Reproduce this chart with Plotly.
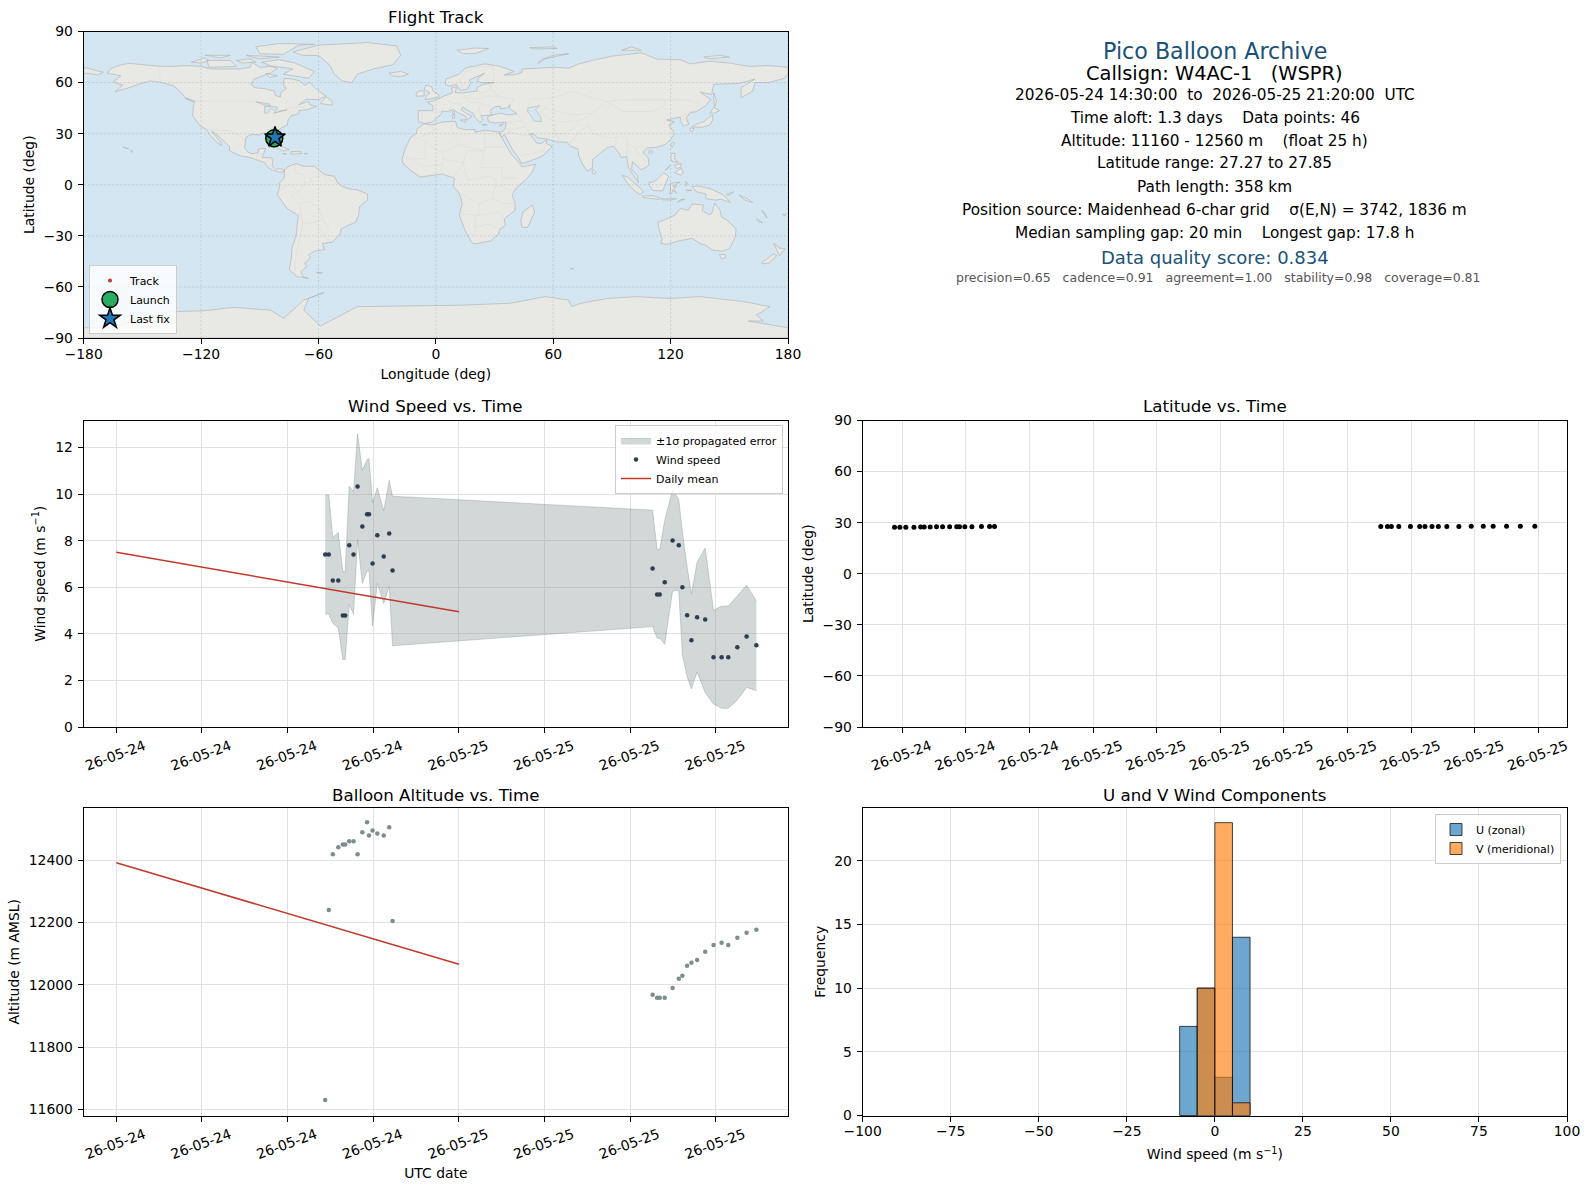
import plotly.graph_objects as go

W, H = 1589, 1189
FONT = "DejaVu Sans"

# ---------- flight data ----------
TIME_A = ["14:38","14:53","15:10","15:33","15:52","16:02","16:19","16:37","16:54","17:14","17:34","17:42","17:57","18:17","18:44","19:07","19:21"]
TIME_B = ["13:34","13:53","14:04","14:25","14:58","15:24","15:39","15:59","16:17","16:41","17:15","17:50","18:24","18:52","19:30","20:09","20:50"]
times = ["2026-05-24 " + t for t in TIME_A] + ["2026-05-25 " + t for t in TIME_B]

wind = [7.41,7.41,6.29,6.29,4.79,4.79,7.80,7.41,10.33,8.61,9.13,9.13,7.02,8.23,7.32,8.31,6.72,
        6.81,5.69,5.69,6.21,8.01,7.80,6.00,4.80,3.72,4.71,4.62,2.99,3.00,3.00,3.42,3.89,3.51]
wind_hi = [9.96,9.96,8.14,8.36,6.68,6.68,10.34,10.10,12.60,11.02,11.49,11.52,9.63,10.27,9.28,10.59,9.91,
           9.31,7.63,7.63,8.88,10.17,9.77,8.37,6.88,5.71,7.07,7.68,5.01,5.19,5.19,5.65,6.09,5.42]
wind_lo = [4.85,4.85,4.45,4.25,2.90,2.90,5.26,4.85,8.05,6.17,6.70,6.72,4.33,6.17,5.31,6.05,3.49,
           4.31,3.81,3.81,3.55,5.85,5.85,3.09,2.16,1.64,2.36,1.47,0.99,0.80,0.80,1.16,1.70,1.56]
mean_days = ["2026-05-24 00:00", "2026-05-25 00:00"]
wind_mean = [7.50, 4.95]
alt_mean = [12392, 12066]

altitude = [11630,12240,12419,12442,12451,12451,12461,12461,12419,12490,12522,12480,12496,12486,12480,12506,12205,
            11968,11958,11958,11958,11990,12019,12029,12061,12071,12080,12106,12128,12135,12128,12151,12167,12177]
latitude = [27.27,27.27,27.28,27.30,27.45,27.45,27.50,27.55,27.55,27.60,27.60,27.60,27.60,27.65,27.70,27.70,27.70,
            27.75,27.76,27.77,27.78,27.78,27.79,27.80,27.80,27.81,27.82,27.82,27.83,27.83,27.84,27.84,27.85,27.85]
longitude = [-82.6,-82.6,-82.6,-82.6,-82.6,-82.5,-82.5,-82.5,-82.5,-82.5,-82.5,-82.5,-82.5,-82.5,-82.4,-82.4,-82.4,
             -82.4,-82.4,-82.4,-82.4,-82.3,-82.3,-82.3,-82.3,-82.3,-82.3,-82.3,-82.3,-82.2,-82.2,-82.2,-82.2,-82.2]

hist_centers = [-7.5, -2.5, 2.5, 7.5]
hist_u = [7, 10, 3, 14]
hist_v = [0, 10, 23, 1]

# ---------- base map (lon, lat) ----------
NORTH_AMERICA = [(-168,65.5),(-166,68.3),(-162,70.2),(-156.5,71.3),(-150,70.5),(-141,69.6),(-135,69.5),(-128,70),(-120,69.5),(-115,68),(-108,68),(-100,68),(-95,69),(-94,72),(-90,69),(-85,69.5),(-81,68.5),(-84,66),(-87,64.5),(-93,62),(-94.5,59),(-92.5,57),(-88,56.5),(-82.5,55),(-82,52.5),(-79.5,51.5),(-79,54.5),(-76.5,56.5),(-78,59),(-77.5,62.5),(-73,62),(-69.5,61),(-67,58.5),(-64.5,60.3),(-61.5,56.5),(-57,53),(-56,52),(-60,50),(-66.5,50.2),(-70,47),(-65,49),(-64.5,47),(-61,46),(-66,44),(-70,43.5),(-70,41.7),(-74,40.5),(-75.5,38),(-76,35),(-78,34),(-81,32),(-81.3,30),(-80,26.8),(-80.5,25.2),(-81.8,26),(-82.8,28),(-84,30),(-86,30.4),(-89,30.2),(-90,29.2),(-94,29.6),(-97,28),(-97.5,25),(-97.8,22),(-96,19),(-94,18.2),(-91,18.7),(-90.5,21),(-87,21.5),(-88,18),(-88.7,16),(-84,15.8),(-83.3,14.9),(-83.7,11),(-82,9),(-79.5,9.5),(-77.4,8.7),(-78,7.5),(-80.3,7.5),(-83,8.3),(-85.7,10),(-87.5,13),(-92,14.6),(-95,16),(-100,17),(-105.5,20),(-105.5,22.5),(-109,26),(-112.5,30),(-114.7,31.5),(-113,29),(-110,25),(-109.5,23),(-112,25),(-115,28.5),(-117.2,32.5),(-120.5,34.5),(-122.5,37.5),(-124.3,40.5),(-124,46),(-123,49),(-128,51),(-130.5,54.5),(-134,58),(-140,60),(-146,61),(-152,59),(-158,56.5),(-164,54.7),(-160,58.5),(-165,60.5),(-161,64),(-168,65.5)]
GREENLAND = [(-73,78),(-60,82),(-35,83.5),(-20,81.5),(-18,76),(-22,70.5),(-32,68),(-40,65),(-43,60),(-48,61),(-52,65),(-54,70),(-60,76),(-68,76),(-73,78)]
BAFFIN = [(-80,73.5),(-72,71.5),(-67,69),(-62,66.5),(-65,62.5),(-72,64),(-78,65),(-73,68),(-85,70),(-89,72),(-80,73.5)]
VICTORIA = [(-117,73),(-105,73),(-102,69.5),(-116,69),(-117,73)]
ELLESMERE = [(-90,77),(-78,76.5),(-70,82),(-62,82.5),(-80,83),(-92,81),(-90,77)]
BANKS = [(-125,72),(-118,74.5),(-116,73),(-120,71.5),(-125,72)]
DEVON = [(-97,76),(-80,75),(-90,74),(-97,76)]
MELVILLE = [(-118,76),(-105,76),(-110,74.5),(-118,76)]
SOMERSET = [(-102,73),(-95,74),(-92,72),(-99,71.5),(-102,73)]
SOUTHAMPTON = [(-87,65.5),(-81,64),(-85,63),(-87,65.5)]
NEWFOUNDLAND = [(-59,47.7),(-53,46.7),(-53,49),(-56,51.5),(-59,47.7)]
VANCOUVER = [(-128,50.7),(-124,48.5),(-125,50),(-128,50.7)]
CUBA = [(-85,22),(-80,23),(-75,20.7),(-78,19.8),(-82,22),(-85,22)]
HISPANIOLA = [(-74,19.5),(-69,19.5),(-68.5,18.3),(-74,18),(-74,19.5)]
JAMAICA = [(-78.3,18.4),(-76.3,18.1),(-77.5,17.8),(-78.3,18.4)]
PUERTO_RICO = [(-67.2,18.5),(-65.6,18.3),(-67,17.9),(-67.2,18.5)]
HAWAII = [(-156,20.2),(-155,19.7),(-155.7,19),(-156,20.2)]
HAWAII_W = [(-160,22.2),(-158,21.6),(-157,21),(-158,21.3),(-160,22.2)]
SOUTH_AMERICA = [(-77.4,8.7),(-75,11),(-71.5,12.4),(-68,11),(-62,10.7),(-57,6),(-52,5),(-50,1),(-48,-1),(-44,-2.5),(-40,-3),(-35,-5.5),(-35,-9),(-39,-13),(-39.5,-18),(-41,-22),(-45,-24),(-48.5,-26),(-49,-29),(-53,-33.8),(-58,-34.5),(-57,-38),(-62,-39),(-65,-41),(-64,-43),(-67,-46),(-66,-48),(-69,-51),(-68,-54),(-65,-55),(-71,-54),(-75,-50),(-74,-44),(-73.5,-37),(-71.5,-30),(-70.3,-18),(-76,-14),(-81,-6),(-80,-2),(-80,1),(-77.5,4),(-77.5,7),(-77.4,8.7)]
FALKLANDS = [(-61,-51.5),(-58,-51.5),(-59,-52.3),(-61,-51.5)]
AFRICA = [(-6,35.8),(-2,35),(3,36.8),(10,37.3),(11,33.5),(15,32.3),(20,32.5),(20,30.8),(25,32),(32,31),(32.5,30),(33.5,28),(35.5,24),(37,21),(38.5,18),(41,15),(43.3,12),(44,10.5),(51,12),(49,7),(46,3),(41,-2),(39,-6),(40.5,-11),(40.5,-15),(35,-20),(35.5,-24),(32.7,-26),(32,-29),(28,-33),(20,-34.8),(18.3,-34),(15,-27),(12,-18),(13.5,-11),(12,-5),(9,-1),(9.5,4),(5,5.5),(4,6.3),(-4,5.2),(-8,4.5),(-13,8.5),(-16.7,12.5),(-17.3,14.7),(-16,20),(-13,27.7),(-10,30),(-9.5,33),(-6,35.8)]
MADAGASCAR = [(49.3,-12),(50.5,-16),(47,-25),(44,-25),(43.5,-21),(44.5,-16),(49.3,-12)]
EURASIA = [(-9,37),(-5.5,36),(-2,36.8),(0,39),(3,41.8),(3,43.2),(6,43),(9,44.3),(11,42.5),(15.5,40),(16,38),(17,39),(18.5,40),(16,41.5),(13,44),(13.7,45.7),(15,44.5),(19,42),(20,39.5),(22.5,36.5),(24,38),(23,40.5),(26,40.8),(29,41.1),(28,42),(28,44),(30.5,46),(33,46),(33,44.5),(35,45),(36.5,45.2),(38,47),(37.5,45),(39,43.7),(41.5,41.7),(37,41),(33,42),(29.2,41),(26.5,40),(26.5,39),(27,37),(30.5,36.3),(36,36.7),(35.5,33.5),(34.3,31.2),(32.5,31),(32.5,30),(34,28),(35,29.5),(37,25.5),(39,21),(42.7,15),(43.5,12.7),(45,12.8),(52,15.6),(55,17.3),(59.5,22.5),(56.5,24.3),(56.5,26.3),(54,24.2),(51.5,24.5),(50.5,26),(48,29.8),(50,30),(52,27.5),(57,26.8),(61.5,25.2),(67,25),(69,22.5),(72.7,21),(73,17),(75,12),(77.5,8),(80,10),(80.3,15),(85,19.5),(88,22),(91,22.5),(94,18),(94.5,16),(97.5,16.5),(98.5,10),(100.5,6.5),(103.5,1.3),(103,5.5),(100,9),(100.5,13.5),(103,11),(105,8.7),(109,11.5),(108.5,16),(105.8,19),(108,21.5),(113,22),(117,23.5),(120,26.5),(122,30),(121,32),(119,35),(122,37),(118,38),(121.5,39),(125,39.7),(125,37.5),(126.5,34.5),(129.3,35.5),(128,39),(130,42.5),(133,42.8),(138,46.5),(140.5,50),(135,54.5),(141,53),(142,59),(150,59.5),(155,59.5),(163,62),(156,57),(156,51),(162,55),(163,60),(170,60),(178,62.5),(180,65),(180,69),(170,70),(160,69.5),(150,71.5),(140,72.5),(130,71),(125,73.5),(113,73.8),(105,77.5),(90,75.5),(80,73),(73,71),(68,68.5),(60,69),(53,68.5),(44,68),(44,66),(40,64.5),(35,64.5),(40,66.5),(33,69.5),(25,71),(15,68.5),(12,65),(5,62),(5,58.8),(7,58),(10.5,59),(12,56),(13,55.5),(16,56),(18,60),(17,61.5),(21.5,64),(25,65.5),(22,63),(21,61),(23,60),(30,60),(24,59),(21,57),(21,55),(14,54),(10,54),(10.5,57.5),(8,57),(8.5,54),(4,52),(1.5,50.5),(-2,49),(-4.5,48.5),(-1.5,46.5),(-1.5,43.5),(-9,43.5),(-9,37)]
CHUKOTKA_W = [(-180,69),(-175,67.5),(-170,66),(-173,64.5),(-178,65.5),(-180,65),(-180,69)]
BRITAIN = [(-5.5,50),(1.5,51.2),(1.5,52.8),(-1.5,55),(-2,57.5),(-5,58.6),(-6,56),(-3,54),(-5,52),(-5.5,50)]
IRELAND = [(-10,52),(-6,52.2),(-6,55),(-8,55.3),(-10,54),(-10,52)]
ICELAND = [(-24,65.5),(-18,66.5),(-14,65),(-18,63.5),(-22.5,64),(-24,65.5)]
SVALBARD = [(11,79),(20,80.3),(27,80),(20,77),(14,77),(11,79)]
NOVAYA = [(52,71),(56,74),(68,77),(60,76),(54,73.5),(52,71)]
SEVERNAYA = [(95,79),(105,79),(100,81),(95,79)]
NEW_SIBERIAN = [(137,75),(145,76),(150,75),(140,74),(137,75)]
FRANZ_JOSEF = [(48,80.5),(60,81),(62,80),(50,79.8),(48,80.5)]
SAKHALIN = [(142,54),(143.5,49),(142.5,46),(142,50),(142,54)]
HONSHU = [(131,34),(136,33.7),(140,35),(141.5,38),(141.5,41),(140,40),(137,37),(133,35.5),(131,34)]
HOKKAIDO = [(140,42),(142,45.5),(145,43.5),(142,42),(140,42)]
KYUSHU = [(130,33.5),(132,33),(131,31),(130,31.5),(130,33.5)]
TAIWAN = [(121,25),(122,24.5),(120.8,22),(120,23.5),(121,25)]
HAINAN = [(109,20),(111,19.7),(110,18.2),(108.7,19),(109,20)]
SRI_LANKA = [(80,9.5),(82,7),(80.5,6),(79.8,8),(80,9.5)]
CYPRUS = [(32.3,35),(34.5,35.6),(33,34.6),(32.3,35)]
SICILY = [(12.5,38),(15.5,38.2),(15,36.7),(12.5,38)]
SARDINIA = [(8.3,41),(9.7,41),(9.5,39),(8.5,39),(8.3,41)]
CORSICA = [(8.7,43),(9.5,43),(9.3,41.4),(8.7,42),(8.7,43)]
CRETE = [(23.5,35.5),(26.3,35.2),(24,34.9),(23.5,35.5)]
SUMATRA = [(95.3,5.6),(98,4.5),(104,-1.5),(106,-4),(104.5,-5.8),(102,-4),(98.5,0),(95.3,5.6)]
JAVA = [(105.5,-6.5),(111,-6.5),(114.5,-7.7),(114,-8.7),(106,-7.5),(105.5,-6.5)]
BORNEO = [(109,1.5),(111,1.5),(113,3),(116.5,7),(119,5),(117.5,1),(116,-3.7),(111,-3.3),(109.2,-0.5),(109,1.5)]
SULAWESI = [(119.5,-5.5),(120,-2.5),(119.8,0.8),(124.8,1.5),(121,-0.8),(123,-1),(121.5,-2),(123,-5),(121,-3),(120.5,-5.5),(119.5,-5.5)]
LUZON = [(120.5,18.5),(122.3,18.3),(122,15),(124,13),(120.7,13.8),(120,16),(120.5,18.5)]
MINDANAO = [(122,7),(125.5,9.8),(126.5,7),(125,5.7),(122,7)]
VISAYAS = [(122,11.5),(125.5,12.5),(125,10.2),(123,9.5),(122,11.5)]
PALAWAN = [(117.2,8.4),(119.5,11.3),(119,10),(117.2,8.4)]
NEW_GUINEA = [(131,-1),(134,-0.8),(138,-1.7),(141,-2.6),(147,-6),(150.8,-10.5),(146,-8.5),(143,-9),(138,-8.2),(138,-5.5),(133,-4),(131,-1)]
HALMAHERA = [(127.5,2),(128.7,1),(128,-0.8),(127.5,2)]
SERAM = [(127.8,-3),(130.8,-3.3),(128,-3.6),(127.8,-3)]
TIMOR = [(123.5,-10.3),(127.2,-8.4),(125,-8.8),(123.5,-10.3)]
FLORES = [(115,-8.2),(119,-8.4),(123,-8.2),(120,-8.9),(116,-8.9),(115,-8.2)]
NEW_BRITAIN = [(148.3,-5.6),(152.2,-4.2),(151,-5.5),(149,-6.3),(148.3,-5.6)]
SOLOMON = [(155,-6),(159,-8),(162,-10.5),(158,-9),(155,-6)]
VANUATU = [(166.5,-15),(168,-16.5),(169.3,-19.5),(167.5,-16.5),(166.5,-15)]
NEW_CALEDONIA = [(164,-20),(167,-22.3),(165,-21.8),(164,-20)]
FIJI = [(177.3,-17.5),(179,-17),(178.5,-18.3),(177.3,-17.5)]
AUSTRALIA = [(113.5,-22),(114,-26),(115.7,-32),(115,-34.4),(118,-35),(124,-33),(131,-31.5),(135.5,-34.8),(138,-35.5),(141,-38.3),(146.5,-39),(150,-37.5),(153,-31),(153.5,-26),(149,-21),(146,-19),(145.3,-15),(142.5,-10.8),(141,-17),(139.5,-17.5),(136,-15),(137,-12),(131,-11.3),(129,-15),(125,-14),(122,-18),(117,-20.5),(113.5,-22)]
TASMANIA = [(145,-41),(148,-41),(148,-43),(146,-43.5),(145,-41)]
NZ_NORTH = [(172.7,-34.5),(175.5,-37),(178.5,-37.7),(175.5,-41.6),(174.5,-39),(172.7,-34.5)]
NZ_SOUTH = [(172.7,-40.5),(174.3,-41.7),(170.5,-45.9),(167,-46.5),(166.5,-45.8),(172.7,-40.5)]
KERGUELEN = [(68.8,-49),(70.5,-49.2),(69.5,-49.7),(68.8,-49)]
ANTARCTICA = [(-180,-90),(-180,-84),(-165,-84),(-150,-78),(-135.6,-74.6),(-118.6,-74),(-103.3,-72),(-84.6,-73.6),(-77.7,-78.4),(-67.5,-67.7),(-57.3,-63.4),(-65,-66.7),(-67.5,-73.6),(-59,-83),(-40.2,-71.6),(-2.8,-71),(14.2,-70.7),(38,-69.6),(55.9,-65.7),(67.8,-67.7),(69.5,-71.6),(73.7,-69.7),(87.4,-66.8),(102.7,-65.7),(119.7,-66.8),(135,-65.7),(157.1,-68.6),(170.7,-71.6),(163.9,-76.5),(167.3,-80),(159.7,-80),(180,-84),(180,-90),(-180,-90)]
CASPIAN = [(47,45),(53,46.5),(51,44),(53.5,40),(54,37),(50,37.5),(49,40),(47,43),(47,45)]
HUDSON_LAKES = [(-92,48.7),(-85,47.5),(-84.5,46.5),(-88,47),(-92,48.7)]
MICHIGAN_HURON = [(-87.5,46),(-84,46),(-81,45.5),(-82,43),(-84,45),(-86,42),(-87.5,42),(-87.5,46)]
ERIE_ONTARIO = [(-83,42),(-79,43),(-76,44),(-79,43.5),(-83,42)]

LAND = [NORTH_AMERICA,GREENLAND,BAFFIN,VICTORIA,ELLESMERE,BANKS,DEVON,MELVILLE,SOMERSET,SOUTHAMPTON,NEWFOUNDLAND,VANCOUVER,CUBA,HISPANIOLA,JAMAICA,PUERTO_RICO,HAWAII,HAWAII_W,SOUTH_AMERICA,FALKLANDS,AFRICA,MADAGASCAR,EURASIA,CHUKOTKA_W,BRITAIN,IRELAND,ICELAND,SVALBARD,NOVAYA,SEVERNAYA,NEW_SIBERIAN,FRANZ_JOSEF,SAKHALIN,HONSHU,HOKKAIDO,KYUSHU,TAIWAN,HAINAN,SRI_LANKA,CYPRUS,SICILY,SARDINIA,CORSICA,CRETE,SUMATRA,JAVA,BORNEO,SULAWESI,LUZON,MINDANAO,VISAYAS,PALAWAN,NEW_GUINEA,HALMAHERA,SERAM,TIMOR,FLORES,NEW_BRITAIN,SOLOMON,VANUATU,NEW_CALEDONIA,FIJI,AUSTRALIA,TASMANIA,NZ_NORTH,NZ_SOUTH,KERGUELEN,ANTARCTICA]
WATER = [CASPIAN, HUDSON_LAKES, MICHIGAN_HURON, ERIE_ONTARIO]

BORDERS = [
 [(-141,69.6),(-141,60)],[(-123,49),(-95,49),(-89,48),(-82.5,45),(-79,43),(-75,45),(-70,46),(-67,45)],
 [(-117,32.5),(-108,31.5),(-106,31.7),(-101,29.5),(-97.5,26)],[(-92,14.6),(-91,17.5),(-89,18)],[(-89,18),(-89,15.8)],[(-87.5,13),(-84,15)],[(-83.7,11),(-85.7,11)],[(-83,8.3),(-82.5,9.5)],
 [(-72,12),(-72,7),(-67.5,6),(-67,1),(-70,-4)],[(-60,8.5),(-60,5),(-64,4),(-64,1.5),(-67,1)],[(-57,6),(-56,2),(-52,2.5)],[(-70,-4),(-74,-7),(-70,-11),(-69,-16),(-70.3,-18)],[(-69,-11),(-65,-10),(-60,-13.5),(-58,-20),(-54.5,-26),(-57.5,-30),(-53,-33.8)],[(-80,-3.5),(-75,0),(-70,-4)],[(-69,-16),(-68,-23),(-70,-33),(-72,-45),(-72,-52)],[(-68,-23),(-62,-22),(-58,-20)],[(-62,-22),(-58,-27),(-57.5,-30)],
 [(-2,35),(-1,32),(-8.5,27.5),(-13,27.7)],[(-8.5,27.5),(-5,25),(3,19),(12,23.5),(9.5,30),(8,33),(8.5,36.9)],[(12,23.5),(25,20),(25,32)],[(25,22),(37,22)],[(24,20),(24,15.5),(23,10),(34,10),(34,4),(41,4)],[(3,19),(4,15),(14,13),(16,20),(24,20)],[(-16.5,16),(-12,15),(-5.5,15.5),(-5.5,25)],[(-12,15),(-8,11),(-3,11),(3,12),(4,15)],[(3,12),(2.7,6.3)],[(14,13),(9,4)],[(14,13),(15,8),(16,3),(18,3),(27,5),(31,3),(30,-1),(29,-8),(22,-11),(12,-5)],[(34,4),(34,-1),(40,-4.5)],[(30,-1),(34,-1)],[(29,-8),(34,-11),(40.5,-11)],[(22,-11),(22,-18),(12,-17)],[(22,-18),(33,-16),(35,-20)],[(20,-18),(20,-29),(17,-29)],[(20,-25),(27,-23),(32,-25.5)],
 [(-1.5,43.5),(3,42.5)],[(-9,42),(-7,42),(-7,37)],[(2,51),(6,49.5),(8,47.7),(7,44)],[(8,47.7),(13,47.5),(13.7,45.7)],[(6,51.5),(7,54)],[(14,54),(15,51),(24,50.5),(23.5,54),(21,55)],[(15,51),(17,48.5),(23,48),(29,45.5)],[(23,48),(22,44),(23,41)],[(19,42),(22,44)],[(12,56),(14,59),(12,61),(15,66),(20,69)],[(20,69),(29,69.5),(30,62),(28,60)],
 [(28,60),(28,56),(32,52),(40,50),(38,47)],[(24,52),(32,52)],[(23.5,54),(28,56)],[(47,45),(48,50),(60,51),(70,55),(80,51),(87,49),(98,50),(107,50),(117,50),(127,50),(135,48),(131,43)],[(87,49),(96,43),(111,43),(117,47),(117,50)],[(80,42),(87,49)],[(53,42),(62,37),(67,37),(74,38),(80,42),(70,41),(56,45),(53,42)],[(60,51),(53,42)],[(61,36),(61,30),(63,27),(61.5,25.2)],[(61,30),(66,30),(71,34),(74,38)],[(48,30),(46,34),(44,37.5),(36,36.7)],[(44,37.5),(41.5,41.7)],[(46,34),(39,32.5),(35.5,33)],[(39,32.5),(37,30),(35,29.5)],[(48,29),(44,29),(37,31)],[(52,19),(55,20),(56,24.3)],[(52,19),(45,17.5),(43,16.5)],[(68,24),(71,28),(74,32),(78,35),(80,30),(88,27.5),(92,28),(97,28),(98,24),(102,21.5),(106,22.5),(108,21.5)],[(92,28),(92,22.5)],[(98,24),(97.5,16.5)],[(102,21.5),(104,18),(107,14),(106,11),(103,11)],[(100,20),(98,16)],[(124.5,40),(130,42.5)],[(125,38),(128.5,38.5)],
]

LON_TICKS = [-180,-120,-60,0,60,120,180]
LAT_TICKS = [-90,-60,-30,0,30,60,90]
WIND_TICKS = [0,2,4,6,8,10,12]
ALT_TICKS = [11600,11800,12000,12200,12400]
FREQ_TICKS = [0,5,10,15,20]
SPEED_TICKS = [-100,-75,-50,-25,0,25,50,75,100]

def flat(rings):
    xs, ys = [], []
    for ring in rings:
        xs += [p[0] for p in ring] + [None]
        ys += [p[1] for p in ring] + [None]
    return xs, ys

fig = go.Figure()

# ---------- map ----------
fig.add_trace(go.Scatter(x=[-180,180,180,-180,-180], y=[-90,-90,90,90,-90], mode="lines", fill="toself",
                         fillcolor="#d4e6f1", line=dict(width=0), showlegend=False, hoverinfo="skip", xaxis="x", yaxis="y"))
lx, ly = flat(LAND)
fig.add_trace(go.Scatter(x=lx, y=ly, mode="lines", fill="toself", fillcolor="#e8e8e4",
                         line=dict(color="#b4b6b6", width=0.7), showlegend=False, hoverinfo="skip", xaxis="x", yaxis="y"))
bx, by = flat(BORDERS)
fig.add_trace(go.Scatter(x=bx, y=by, mode="lines", line=dict(color="#dcdcd8", width=0.6), showlegend=False,
                         hoverinfo="skip", connectgaps=False, xaxis="x", yaxis="y"))
wx, wy = flat(WATER)
fig.add_trace(go.Scatter(x=wx, y=wy, mode="lines", fill="toself", fillcolor="#d4e6f1",
                         line=dict(color="#b4b6b6", width=0.6), showlegend=False, hoverinfo="skip", xaxis="x", yaxis="y"))
gx, gy = flat([[(v,-90),(v,90)] for v in LON_TICKS] + [[(-180,v),(180,v)] for v in LAT_TICKS])
fig.add_trace(go.Scatter(x=gx, y=gy, mode="lines", line=dict(color="rgba(128,128,128,0.3)", width=0.8, dash="2px,2px"),
                         showlegend=False, hoverinfo="skip", xaxis="x", yaxis="y"))
fig.add_trace(go.Scatter(x=longitude, y=latitude, mode="markers", name="Track", marker=dict(color="#c0392b", size=4),
                         xaxis="x", yaxis="y", legend="legend"))
fig.add_trace(go.Scatter(x=longitude[:1], y=latitude[:1], mode="markers", name="Launch",
                         marker=dict(color="#27ae60", size=17, line=dict(color="black", width=1.5)), xaxis="x", yaxis="y", legend="legend"))
fig.add_trace(go.Scatter(x=longitude[-1:], y=latitude[-1:], mode="markers", name="Last fix",
                         marker=dict(color="#1f77b4", size=15.5, symbol="star", line=dict(color="black", width=1.5)), xaxis="x", yaxis="y", legend="legend"))

# ---------- wind ----------
BAND = "rgba(127,140,141,0.35)"
fig.add_trace(go.Scatter(x=times, y=wind_lo, mode="lines", line=dict(color=BAND, width=1), showlegend=False,
                         hoverinfo="skip", xaxis="x2", yaxis="y2"))
fig.add_trace(go.Scatter(x=times, y=wind_hi, mode="lines", fill="tonexty", fillcolor=BAND, name="±1σ propagated error",
                         line=dict(color=BAND, width=1), xaxis="x2", yaxis="y2", legend="legend2"))
fig.add_trace(go.Scatter(x=times, y=wind, mode="markers", name="Wind speed", marker=dict(color="#2c3e50", size=4.5),
                         xaxis="x2", yaxis="y2", legend="legend2"))
fig.add_trace(go.Scatter(x=mean_days, y=wind_mean, mode="lines", name="Daily mean", line=dict(color="#c0392b", width=1.5),
                         xaxis="x2", yaxis="y2", legend="legend2"))

# ---------- latitude ----------
fig.add_trace(go.Scatter(x=times, y=latitude, mode="markers", marker=dict(color="black", size=5), showlegend=False, xaxis="x3", yaxis="y3"))

# ---------- altitude ----------
fig.add_trace(go.Scatter(x=times, y=altitude, mode="markers", marker=dict(color="#7f8c8d", size=4.5), showlegend=False, xaxis="x4", yaxis="y4"))
fig.add_trace(go.Scatter(x=mean_days, y=alt_mean, mode="lines", line=dict(color="#c0392b", width=1.5), showlegend=False, xaxis="x4", yaxis="y4"))

# ---------- histogram ----------
fig.add_trace(go.Bar(x=hist_centers, y=hist_u, width=5, name="U (zonal)", marker=dict(color="rgba(31,119,180,0.65)", line=dict(color="rgba(0,0,0,0.7)", width=1)),
                     xaxis="x5", yaxis="y5", legend="legend3"))
fig.add_trace(go.Bar(x=hist_centers, y=hist_v, width=5, name="V (meridional)", marker=dict(color="rgba(255,127,14,0.65)", line=dict(color="rgba(0,0,0,0.7)", width=1)),
                     xaxis="x5", yaxis="y5", legend="legend3"))

def xdom(a, b): return [a / W, b / W]
def ydom(top, bottom): return [1 - bottom / H, 1 - top / H]

axis_style = dict(showline=True, linecolor="black", linewidth=1, mirror=True, ticks="outside", ticklen=5, tickwidth=1,
                  tickcolor="black", gridcolor="#e2e2e2", gridwidth=1, zeroline=False, automargin=False,
                  tickfont=dict(family=FONT, size=13.9, color="black"))
y_style = dict(axis_style, ticklabelstandoff=2)
x_style = dict(axis_style, ticklabelstandoff=-2)
def title_of(text, standoff=6):
    return dict(text=text, font=dict(family=FONT, size=13.9, color="black"), standoff=standoff)

time_style = dict(type="date", dtick=21600000, tick0="2026-05-24 00:00", tickformat="%y-%m-%d", tickangle=-20, ticklabelshift=28)
wind_range = ["2026-05-23 21:43", "2026-05-25 23:03"]
lat_range = ["2026-05-24 13:08", "2026-05-25 22:21"]

L1, R1, L2, R2 = 83.7, 788, 862.7, 1567
Y1, Y2, Y3, Y4, Y5, Y6 = 31.5, 338, 420.5, 727, 808, 1115.5

legend_style = dict(bgcolor="rgba(255,255,255,0.8)", bordercolor="#cccccc", borderwidth=1,
                    font=dict(family=FONT, size=11), tracegroupgap=0, traceorder="normal")

fig.update_layout(
    width=W, height=H, autosize=False, margin=dict(l=0, r=0, t=0, b=0), paper_bgcolor="white", plot_bgcolor="white",
    font=dict(family=FONT, color="black"), barmode="overlay", hovermode=False,
    xaxis=dict(x_style, domain=xdom(L1, R1), anchor="y", range=[-180,180], tickmode="array", tickvals=LON_TICKS, showgrid=False, title=title_of("Longitude (deg)", 8)),
    yaxis=dict(y_style, domain=ydom(Y1, Y2), anchor="x", range=[-90,90], tickmode="array", tickvals=LAT_TICKS, showgrid=False, title=title_of("Latitude (deg)", 5)),
    xaxis2=dict(axis_style, **time_style, domain=xdom(L1, R1), anchor="y2", range=wind_range),
    yaxis2=dict(y_style, domain=ydom(Y3, Y4), anchor="x2", range=[0,13.16], tickmode="array", tickvals=WIND_TICKS, title=title_of("Wind speed (m s<sup>−1</sup>)", 6)),
    xaxis3=dict(axis_style, **{**time_style, "dtick": 10800000}, domain=xdom(L2, R2), anchor="y3", range=lat_range),
    yaxis3=dict(y_style, domain=ydom(Y3, Y4), anchor="x3", range=[-90,90], tickmode="array", tickvals=LAT_TICKS, title=title_of("Latitude (deg)", 5)),
    xaxis4=dict(axis_style, **time_style, domain=xdom(L1, R1), anchor="y4", range=wind_range, title=title_of("UTC date", 7)),
    yaxis4=dict(y_style, domain=ydom(Y5, Y6), anchor="x4", range=[11580,12568], tickmode="array", tickvals=ALT_TICKS, tickformat="d", title=title_of("Altitude (m AMSL)", 5)),
    xaxis5=dict(x_style, domain=xdom(L2, R2), anchor="y5", range=[-100,100], tickmode="array", tickvals=SPEED_TICKS, title=title_of("Wind speed (m s<sup>−1</sup>)", 11)),
    yaxis5=dict(y_style, domain=ydom(Y5, Y6), anchor="x5", range=[0,24.15], tickmode="array", tickvals=FREQ_TICKS, title=title_of("Frequency", 5)),
    legend=dict(legend_style, x=89/W, y=1-334/H, xanchor="left", yanchor="bottom", itemsizing="trace"),
    legend2=dict(legend_style, x=783/W, y=1-425/H, xanchor="right", yanchor="top"),
    legend3=dict(legend_style, x=1561/W, y=1-814/H, xanchor="right", yanchor="top"),
)

# ---------- titles and summary text ----------
PANEL_TITLES = [("Flight Track", (L1+R1)/2, 18), ("Wind Speed vs. Time", (L1+R1)/2, 406.3), ("Latitude vs. Time", (L2+R2)/2, 406.3),
                ("Balloon Altitude vs. Time", (L1+R1)/2, 795.3), ("U and V Wind Components", (L2+R2)/2, 795.3)]
SUMMARY = [
    ("Pico Balloon Archive", 50.7, 22.2, "#1a5276", 1214.5),
    ("Callsign: W4AC-1   (WSPR)", 73, 19.4, "black", 1214.5),
    ("2026-05-24 14:30:00  to  2026-05-25 21:20:00  UTC", 95, 15.3, "black", 1214.5),
    ("Time aloft: 1.3 days    Data points: 46", 117.6, 15.3, "black", 1214.5),
    ("Altitude: 11160 - 12560 m    (float 25 h)", 140.9, 15.3, "black", 1214.5),
    ("Latitude range: 27.27 to 27.85", 163.2, 15.3, "black", 1214.5),
    ("Path length: 358 km", 187.2, 15.3, "black", 1214.5),
    ("Position source: Maidenhead 6-char grid    σ(E,N) = 3742, 1836 m", 209.8, 15.3, "black", 1214.5),
    ("Median sampling gap: 20 min    Longest gap: 17.8 h", 232.8, 15.3, "black", 1214.5),
    ("Data quality score: 0.834", 257.4, 18, "#1a5276", 1214.5),
    ("precision=0.65   cadence=0.91   agreement=1.00   stability=0.98   coverage=0.81", 277.7, 12.5, "#555555", 1218.5),
]
notes = []
for text, x, y in PANEL_TITLES:
    notes.append(dict(text=text, x=x/W, y=1-y/H, xref="paper", yref="paper", showarrow=False, xanchor="center", yanchor="middle",
                      font=dict(family=FONT, size=16.67, color="black")))
for text, y, size, color, cx in SUMMARY:
    notes.append(dict(text=text.replace("  ", "\u00a0\u00a0"), x=cx/W, y=1-y/H, xref="paper", yref="paper", showarrow=False, xanchor="center", yanchor="middle",
                      font=dict(family=FONT, size=size, color=color)))
fig.update_layout(annotations=notes)

fig.write_html("out.html", config={"displayModeBar": False}, post_script="document.body.style.margin='0';window.dispatchEvent(new Event('resize'));")
